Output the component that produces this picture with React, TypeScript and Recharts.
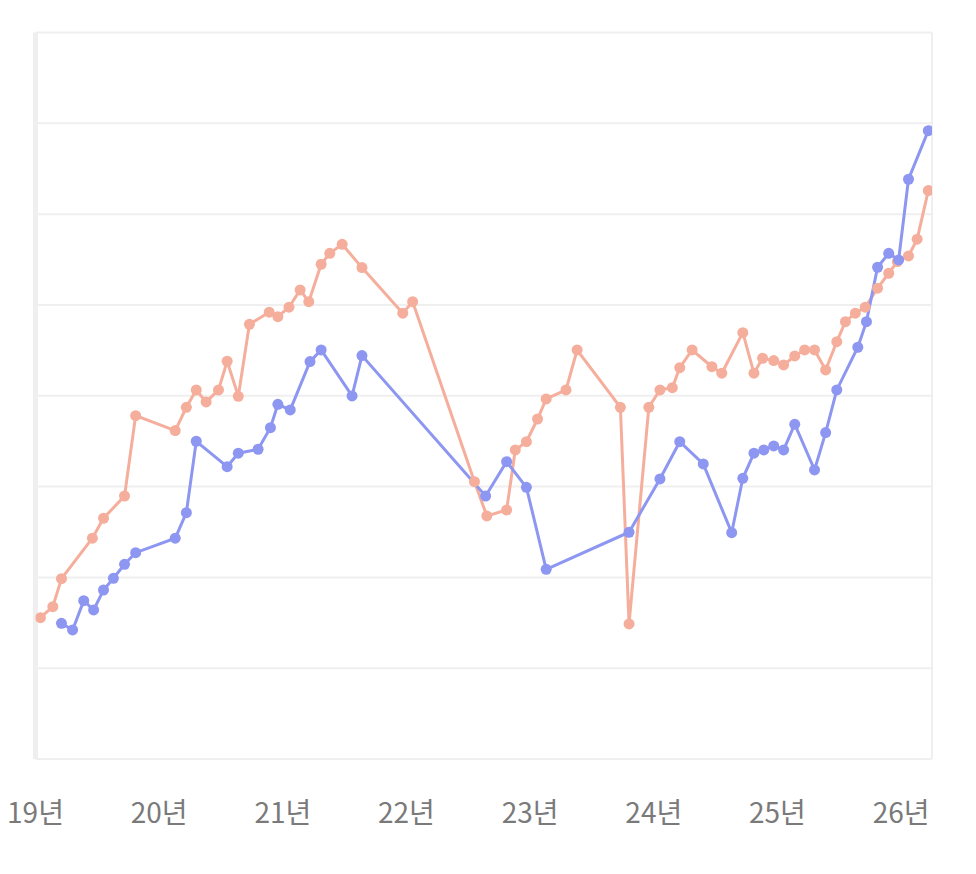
import React from 'react';
import { LineChart, Line, XAxis, YAxis, CartesianGrid, ReferenceLine } from 'recharts';

// x positions are fractional years, y values are index values (0–80 scale)
const salmonX = [
  2019.04, 2019.14, 2019.21, 2019.46, 2019.55, 2019.72, 2019.81, 2020.13, 2020.22, 2020.30,
  2020.38, 2020.48, 2020.55, 2020.64, 2020.73, 2020.89, 2020.96, 2021.05, 2021.14, 2021.21,
  2021.31, 2021.38, 2021.48, 2021.64, 2021.97, 2022.05, 2022.55, 2022.65, 2022.81, 2022.88,
  2022.97, 2023.06, 2023.13, 2023.29, 2023.38, 2023.73, 2023.80, 2023.96, 2024.05, 2024.15,
  2024.21, 2024.31, 2024.47, 2024.55, 2024.72, 2024.81, 2024.88, 2024.97, 2025.05, 2025.14,
  2025.22, 2025.30, 2025.39, 2025.48, 2025.55, 2025.63, 2025.71, 2025.81, 2025.90, 2025.97,
  2026.06, 2026.13, 2026.22,
];
const salmonY = [
  15.56, 16.77, 19.86, 24.31, 26.51, 28.96, 37.81, 36.16, 38.73, 40.64,
  39.32, 40.64, 43.8, 39.94, 47.87, 49.2, 48.71, 49.75, 51.65, 50.36,
  54.48, 55.69, 56.68, 54.11, 49.09, 50.36, 30.54, 26.76, 27.42, 34.03,
  34.94, 37.44, 39.65, 40.64, 45.04, 38.73, 14.87, 38.73, 40.64, 40.89,
  43.09, 45.04, 43.2, 42.48, 46.95, 42.48, 44.13, 43.87, 43.39, 44.38,
  45.04, 45.04, 42.84, 45.96, 48.16, 49.09, 49.75, 51.84, 53.49, 54.77,
  55.4, 57.24, 62.59,
];

const blueX = [
  2019.21, 2019.30, 2019.39, 2019.47, 2019.55, 2019.63, 2019.72, 2019.81, 2020.13, 2020.22,
  2020.30, 2020.55, 2020.64, 2020.80, 2020.90, 2020.96, 2021.06, 2021.22, 2021.31, 2021.56,
  2021.64, 2022.64, 2022.81, 2022.97, 2023.13, 2023.80, 2024.05, 2024.21, 2024.40, 2024.63,
  2024.72, 2024.81, 2024.89, 2024.97, 2025.05, 2025.14, 2025.30, 2025.39, 2025.48, 2025.65,
  2025.72, 2025.81, 2025.90, 2025.98, 2026.06, 2026.22,
];
const blueY = [
  14.94, 14.21, 17.43, 16.41, 18.61, 19.9, 21.44, 22.72, 24.31, 27.13,
  34.99, 32.19, 33.67, 34.11, 36.49, 39.06, 38.44, 43.76, 45.04, 39.98,
  44.42, 28.96, 32.74, 29.92, 20.89, 24.97, 30.84, 34.94, 32.49, 24.92,
  30.91, 33.67, 34.03, 34.47, 34.03, 36.86, 31.83, 35.94, 40.64, 45.34,
  48.16, 54.15, 55.69, 54.96, 63.84, 69.19,
];

const yearTicks = [2019, 2020, 2021, 2022, 2023, 2024, 2025, 2026];
const yearLabels = ['19년', '20년', '21년', '22년', '23년', '24년', '25년', '26년'];
const yTicks = [0, 10, 20, 30, 40, 50, 60, 70, 80];

const salmonData = salmonX.map((x, i) => ({ x, y: salmonY[i] }));
const blueData = blueX.map((x, i) => ({ x, y: blueY[i] }));

const SALMON = '#F6AE9C';
const BLUE = '#8D96F1';
const GRID = '#EFEFEF';

const EmptyTick = () => <g />;

export default function App() {
  return (
    <LineChart
      width={960}
      height={860}
      margin={{ top: 24.5, left: 0, right: 36, bottom: 49 }}
    >
      <CartesianGrid vertical={false} stroke={GRID} strokeWidth={2} />
      <XAxis
        type="number"
        dataKey="x"
        domain={[2019, 2026.25]}
        ticks={yearTicks}
        interval={0}
        allowDataOverflow
        height={60}
        tickFormatter={(v: number) => yearLabels[yearTicks.indexOf(v)] ?? ''}
        axisLine={{ stroke: GRID, strokeWidth: 2 }}
        tickLine={false}
        tickSize={0}
        tickMargin={44}
        tick={{ fill: '#7A7A7A', fontSize: 28, fontFamily: '"Noto Sans CJK KR", "Noto Sans", sans-serif' }}
      />
      <YAxis
        type="number"
        domain={[0, 80]}
        ticks={yTicks}
        interval={0}
        width={27.5}
        tick={<EmptyTick />}
        tickLine={false}
        axisLine={{ stroke: GRID, strokeWidth: 5 }}
      />
      <ReferenceLine x={2026.25} stroke={GRID} strokeWidth={2} />
      <Line
        data={salmonData}
        dataKey="y"
        type="linear"
        stroke={SALMON}
        strokeWidth={3}
        dot={{ r: 5.5, fill: SALMON, stroke: 'none' }}
        activeDot={false}
        isAnimationActive={false}
      />
      <Line
        data={blueData}
        dataKey="y"
        type="linear"
        stroke={BLUE}
        strokeWidth={3}
        dot={{ r: 5.5, fill: BLUE, stroke: 'none' }}
        activeDot={false}
        isAnimationActive={false}
      />
    </LineChart>
  );
}
